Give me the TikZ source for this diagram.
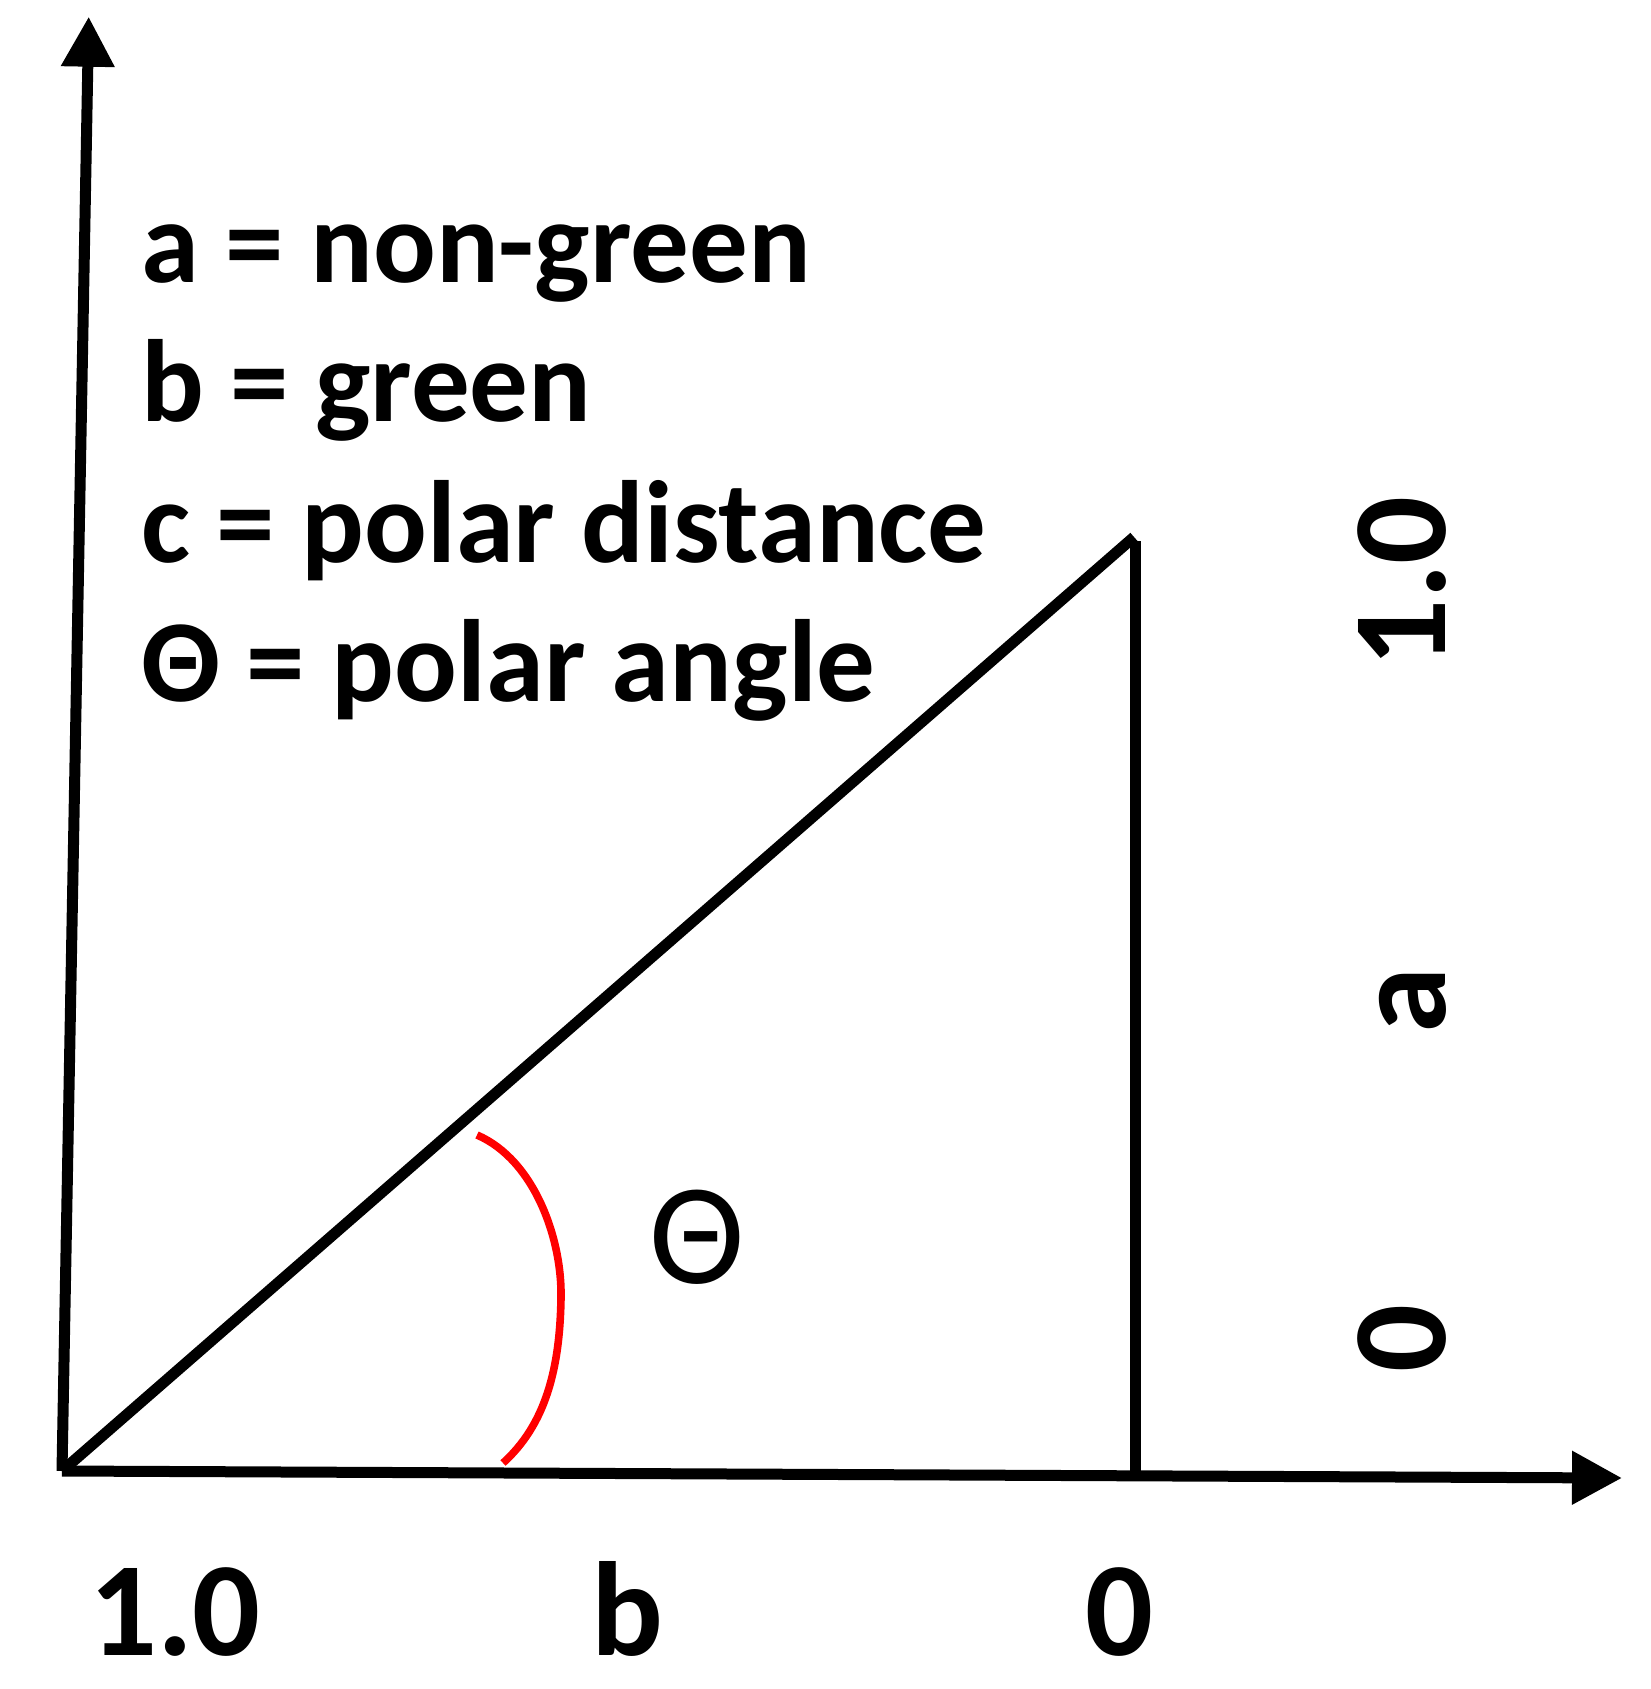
\documentclass[tikz,border=0pt]{standalone}
\usepackage{fontspec}
\setmainfont{Carlito}
\usetikzlibrary{arrows.meta}
\begin{document}
\begin{tikzpicture}[x=0.5pt,y=-0.5pt,
  axisline/.style={line width=5.5pt,-{Triangle[length=25pt,width=25.5pt]}},
  triline/.style={line width=5.5pt},
  anglearc/.style={line width=3.8pt,color=red},
  legend/.style={anchor=base west,inner sep=0pt,font=\fontsize{58.5}{60}\selectfont\bfseries},
  ticklabel/.style={anchor=base,inner sep=0pt,font=\fontsize{67}{70}\selectfont\bfseries},
  thetalabel/.style={inner sep=0pt,font=\fontsize{72}{75}\selectfont}]
\useasboundingbox (0,0) rectangle (1650,1689);
\coordinate (O) at (62,1471);
\coordinate (Ytip) at (88.7,16.7);
\coordinate (Xtip) at (1622,1478);
\coordinate (A) at (1134,537);
\coordinate (Atop) at (1135.5,541);
\coordinate (F) at (1135.5,1476);
\coordinate (R1) at (477,1135);
\coordinate (R2) at (561,1297);
\coordinate (R3) at (503,1463);
% axes
\draw[axisline] (O) -- (Ytip);
\draw[axisline] (O) -- (Xtip);
% triangle
\draw[triline] (O) -- (A);
\draw[triline] (Atop) -- (F);
% angle arc
\draw[anglearc] (R1) .. controls (535,1160) and (562,1240) .. (R2)
  .. controls (560,1370) and (545,1425) .. (R3);
\node[thetalabel] (th) at (697,1237) {Θ};
% legend
\node[legend] (l1) at (141,283) {a = non-green};
\node[legend] (l2) at (141,422) {b = green};
\node[legend] (l3) at (141,562) {c = polar distance};
\node[legend] (l4) at (141,701) {Θ = polar angle};
% bottom labels
\node[ticklabel] (b1) at (175,1655) {1.0};
\node[ticklabel] (bb) at (627.5,1655) {b};
\node[ticklabel] (b0) at (1119,1655) {0};
% right labels (rotated)
\node[ticklabel,rotate=90] (r1) at (1445,582) {1.0};
\node[ticklabel,rotate=90] (ra) at (1445,1000) {a};
\node[ticklabel,rotate=90] (r0) at (1445,1339) {0};
\end{tikzpicture}
\end{document}
